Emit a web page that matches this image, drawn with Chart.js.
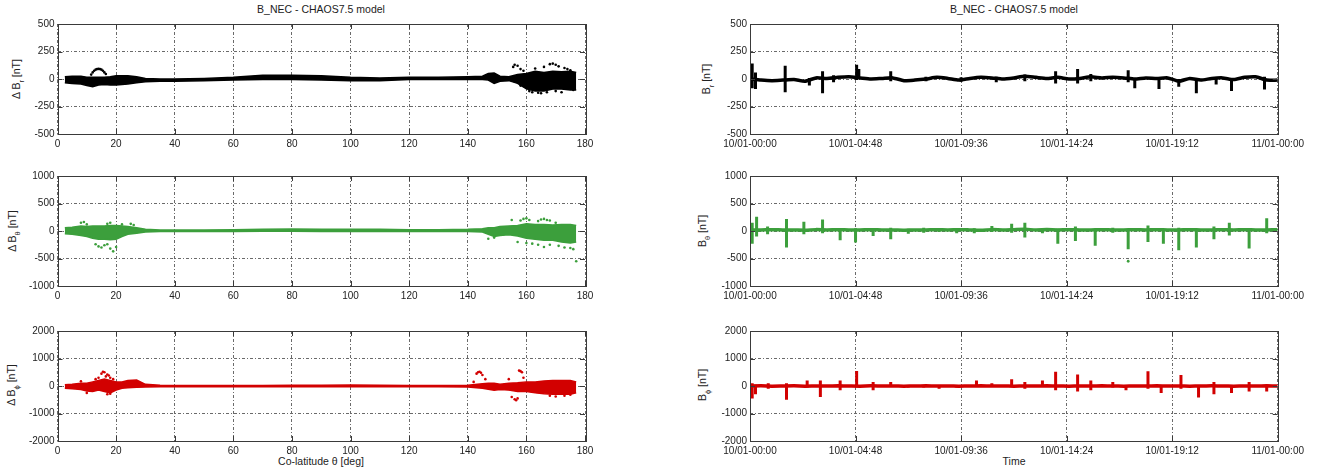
<!DOCTYPE html>
<html lang="en">
<head>
  <meta charset="UTF-8" />
  <title>B_NEC - CHAOS7.5 model</title>
  <script src="https://cdn.jsdelivr.net/npm/chart.js"></script>
  <style>
    body { margin: 0; background: #fff; width: 1325px; height: 472px; position: relative; overflow: hidden;
           font-family: 'Liberation Sans', Arial, sans-serif; color: #222; }
    canvas { position: absolute; }
    .txt { position: absolute; transform: translate(-50%, -50%); white-space: nowrap; font-size: 10px; }
    .ylab { position: absolute; transform: translate(-50%, -50%) rotate(-90deg); white-space: nowrap; font-size: 10.5px; }
    sub { font-size: 7.5px; }
  </style>
</head>
<body>
  <div class="txt" style="left:321px;top:9px;font-size:10.5px">B_NEC - CHAOS7.5 model</div>
  <div class="txt" style="left:1014px;top:9px;font-size:10.5px">B_NEC - CHAOS7.5 model</div>

  <div class="ylab" style="left:18px;top:79px">Δ B<sub>r</sub> [nT]</div>
  <div class="ylab" style="left:14px;top:231px">Δ B<sub>θ</sub> [nT]</div>
  <div class="ylab" style="left:13px;top:385px">Δ B<sub>ϕ</sub> [nT]</div>
  <div class="ylab" style="left:708px;top:79px">B<sub>r</sub> [nT]</div>
  <div class="ylab" style="left:704px;top:231px">B<sub>θ</sub> [nT]</div>
  <div class="ylab" style="left:704px;top:385px">B<sub>ϕ</sub> [nT]</div>

  <div class="txt" style="left:321px;top:461px;font-size:10.5px">Co-latitude θ [deg]</div>
  <div class="txt" style="left:1014px;top:461px;font-size:10.5px">Time</div>

  <canvas id="l1" width="605" height="142" style="left:0;top:14px"></canvas>
  <canvas id="l2" width="605" height="142" style="left:0;top:166px"></canvas>
  <canvas id="l3" width="605" height="142" style="left:0;top:320.5px"></canvas>
  <canvas id="r1" width="635" height="142" style="left:690px;top:14px"></canvas>
  <canvas id="r2" width="635" height="142" style="left:690px;top:166px"></canvas>
  <canvas id="r3" width="635" height="142" style="left:690px;top:320.5px"></canvas>

  <script>
    // ---- left column: residuals vs co-latitude (envelopes of the point cloud + outliers)
    const colat = [2.5,5,8,10,12,14,16,18,20,22,24,27,30,35,40,50,60,70,80,90,100,110,120,130,140,145,147,149,151,154,157,160,163,166,169,172,175,177];

    const dBrUpper = [20,25,25,15,15,15,15,20,30,30,30,20,5,0,0,5,15,35,35,30,15,10,15,15,20,25,50,55,25,20,40,50,70,60,70,65,70,60];
    const dBrLower = [-35,-40,-45,-60,-70,-55,-50,-55,-55,-50,-45,-35,-25,-20,-20,-15,-10,-5,-5,-10,-15,-15,-5,-5,-5,-5,-10,-40,-20,-15,-40,-90,-110,-110,-90,-90,-100,-100];
    const dBrOutX = [11.5,12,12.5,13,13.5,14,14.5,15,15.5,16,16.5,155.5,156,157,158,159,163,166,168,169,170,171,173,174,175,158,160,161,162,164,165,167,170,172,176];
    const dBrOutY = [40,60,75,85,90,92,90,85,75,60,45,110,130,120,90,75,95,110,135,140,130,115,100,90,80,-60,-80,-110,-120,-125,-130,-120,-110,-120,-100];

    const dBtUpper = [60,70,90,80,90,90,90,100,100,90,80,60,30,20,20,20,25,30,35,30,30,30,25,25,30,40,60,60,80,90,100,130,120,120,110,120,120,100];
    const dBtLower = [-50,-60,-80,-100,-130,-150,-150,-160,-150,-100,-60,-40,-20,-10,-10,-10,-10,-5,-5,-10,-10,-10,-10,-10,-10,-20,-60,-100,-80,-70,-90,-130,-150,-170,-170,-200,-220,-200];
    const dBtOutX = [8,9,10,13,14,15,16,17,18,19,20,17,18,22,25,26,147,149,155,158,159,160,161,164,165,166,167,168,170,162,164,166,168,171,173,175,176,177,157,160];
    const dBtOutY = [150,165,120,-240,-280,-300,-260,-240,-320,-370,-290,130,150,120,130,110,-140,-120,200,190,220,230,200,180,210,220,200,190,150,-230,-250,-290,-250,-270,-300,-310,-330,-550,-200,-220];

    const dBpUpper = [50,60,100,100,150,200,250,200,150,150,200,220,60,30,20,20,20,20,30,30,40,30,20,20,30,80,100,100,60,100,120,150,150,180,200,200,200,150];
    const dBpLower = [-80,-100,-130,-180,-200,-150,-200,-250,-150,-80,-60,-50,-40,-30,-30,-30,-30,-30,-30,-30,-30,-30,-30,-30,-40,-80,-120,-150,-130,-150,-200,-200,-250,-280,-300,-300,-300,-250];
    const dBpOutX = [8,13,14,15,15.5,16,16.5,17,17.5,18,19,17,18,10,142,143,143.5,144,144.5,145,146,155,156,156.5,157,157.5,158,158.5,159,154,170,173,175,168];
    const dBpOutY = [170,250,300,450,520,500,350,420,380,300,250,-300,-280,-250,150,450,500,520,480,400,250,-400,-480,-520,-450,560,540,500,300,250,-380,-350,-320,-350];

    const colatTicks = [0,20,40,60,80,100,120,140,160,180];

    // ---- right column: field along the orbit, hours since 10/01-00:00
    const hours = [0,0.5,1,1.5,2,2.5,3,3.5,4,4.5,5,5.5,6,6.5,7,7.5,8,8.5,9,9.5,10,10.5,11,11.5,12,12.5,13,13.5,14,14.5,15,15.5,16,16.5,17,17.5,18,18.5,19,19.5,20,20.5,21,21.5,22,22.5,23,23.5,24];
    const brBase = [0,-10,-15,-10,-5,-20,10,5,15,20,10,0,5,10,-15,-10,0,15,5,-10,5,15,10,0,10,25,15,5,15,0,5,20,10,15,10,0,10,5,10,-20,5,-10,5,10,-5,15,20,-10,-10];
    const btBase = [20,20,25,20,20,15,25,20,25,20,20,25,20,20,15,20,20,25,20,25,20,15,25,20,25,30,20,25,20,25,20,20,25,20,20,25,20,25,20,20,25,20,20,25,20,25,20,20,25];
    const bpBase = [0,5,-5,0,5,-5,0,0,5,0,-5,5,0,0,-5,0,5,0,0,-5,0,5,0,0,-5,0,0,5,0,-5,0,0,5,0,-5,0,0,5,0,0,-5,0,5,0,-5,0,0,5,0];

    const brSpikeT  = [0.1,0.25,1.6,2.7,3.3,3.8,4.85,4.95,6.4,8.0,9.6,11.2,12.5,13.9,14.9,15.5,17.2,17.5,18.6,19.5,20.3,21.2,21.9,23.4];
    const brSpikeLo = [-85,-90,-120,-60,-130,-30,-10,0,-20,-20,-25,-30,-20,-40,-40,-20,-30,-85,-90,-70,-130,-50,-110,-95];
    const brSpikeHi = [140,60,120,10,70,35,130,90,70,20,15,20,40,70,90,45,80,10,10,0,10,10,10,20];

    const btSpikeT  = [0.1,0.3,0.8,1.66,2.45,3.3,4.1,4.8,5.6,6.4,7.2,7.9,8.6,9.4,10.2,11.0,11.9,12.5,13.3,14.0,14.8,15.7,16.5,17.2,18.1,18.8,19.5,20.3,21.1,21.8,22.7,23.5];
    const btSpikeLo = [-230,-100,-60,-300,-60,-40,-170,-210,-90,-150,-50,-30,-20,-40,-40,-20,-30,-120,-40,-230,-180,-270,-30,-330,-200,-230,-350,-300,-150,-80,-320,-40];
    const btSpikeHi = [150,260,80,220,170,210,40,50,40,60,40,60,40,30,50,90,130,150,40,40,80,40,60,30,100,30,60,40,80,150,40,230];
    const btOutT = [17.2];
    const btOutY = [-550];

    const bpSpikeT  = [0.1,0.25,0.83,1.66,2.6,3.2,4.1,4.85,5.6,6.4,7.2,7.9,8.6,9.4,10.3,11.0,11.9,12.5,13.3,13.9,14.9,15.5,16.5,17.1,18.1,18.7,19.6,20.4,21.1,21.9,22.7,23.5];
    const bpSpikeLo = [-450,-300,-100,-500,-50,-400,-150,-20,-150,-30,-50,-50,-100,-50,-30,-30,-20,-100,-30,-150,-200,-150,-50,-150,-100,-250,-100,-420,-300,-250,-200,-200];
    const bpSpikeHi = [100,50,100,100,200,200,200,550,150,150,30,20,20,20,200,100,250,150,200,520,420,200,150,30,540,30,400,30,150,30,150,50];

    const timeTicks = [0,4.8,9.6,14.4,19.2,24];
    const timeLabels = ['10/01-00:00','10/01-04:48','10/01-09:36','10/01-14:24','10/01-19:12','11/01-00:00'];

    const BLACK = '#000000', GREEN = '#3c9f3c', RED = '#d20000';
    const FONT = { family: "'Liberation Sans', Arial, sans-serif", size: 10 };

    // axes box + inward tick marks (MATLAB style)
    const framePlugin = {
      id: 'frame',
      afterDatasetsDraw(chart) {
        const { ctx, chartArea: a, scales } = chart;
        ctx.save();
        ctx.strokeStyle = '#3a3a3a';
        ctx.lineWidth = 1;
        ctx.beginPath();
        scales.x.ticks.forEach(t => {
          const px = Math.round(scales.x.getPixelForValue(t.value)) + 0.5;
          ctx.moveTo(px, a.bottom); ctx.lineTo(px, a.bottom - 5);
          ctx.moveTo(px, a.top); ctx.lineTo(px, a.top + 5);
        });
        scales.y.ticks.forEach(t => {
          const py = Math.round(scales.y.getPixelForValue(t.value)) + 0.5;
          ctx.moveTo(a.left, py); ctx.lineTo(a.left + 5, py);
          ctx.moveTo(a.right, py); ctx.lineTo(a.right - 5, py);
        });
        ctx.stroke();
        ctx.strokeRect(Math.round(a.left) + 0.5, Math.round(a.top) + 0.5,
                       Math.round(a.right - a.left), Math.round(a.bottom - a.top));
        ctx.restore();
      }
    };

    function makeChart(id, datasets, xr, xTicks, xLabels, yTicks, yAxisW, padRight) {
      new Chart(document.getElementById(id), {
        type: 'line',
        data: { datasets },
        plugins: [framePlugin],
        options: {
          responsive: false,
          animation: false,
          devicePixelRatio: 1,
          layout: { padding: { left: 0, top: 10, right: padRight, bottom: 0 } },
          plugins: { legend: { display: false }, tooltip: { enabled: false } },
          scales: {
            x: {
              type: 'linear', min: xr[0], max: xr[1],
              afterBuildTicks: s => { s.ticks = xTicks.map(v => ({ value: v })); },
              afterFit: s => { s.height = 22; },
              ticks: { callback: (v, i) => xLabels[i], maxRotation: 0, autoSkip: false, padding: 4, font: FONT, color: '#222' },
              grid: { color: '#6a6a6a', lineWidth: 1, drawTicks: false },
              border: { display: false, dash: [3, 2, 1, 2] }
            },
            y: {
              type: 'linear', min: yTicks[0], max: yTicks[yTicks.length - 1],
              afterBuildTicks: s => { s.ticks = yTicks.map(v => ({ value: v })); },
              afterFit: s => { s.width = yAxisW; },
              ticks: { callback: v => String(v), padding: 3, font: FONT, color: '#222' },
              grid: { color: '#6a6a6a', lineWidth: 1, drawTicks: false },
              border: { display: false, dash: [3, 2, 1, 2] }
            }
          }
        }
      });
    }

    function bandSets(color, lower, upper, outX, outY) {
      return [
        { data: colat.map((x, i) => ({ x, y: lower[i] })), borderColor: color, borderWidth: 1.5, pointRadius: 0, fill: false },
        { data: colat.map((x, i) => ({ x, y: upper[i] })), borderColor: color, backgroundColor: color, borderWidth: 1.5, pointRadius: 0, fill: '-1' },
        { data: outX.map((x, i) => ({ x, y: outY[i] })), showLine: false, pointRadius: 1.3, pointBackgroundColor: color, pointBorderWidth: 0 }
      ];
    }

    function seriesSets(color, base, spT, spLo, spHi, outT, outY) {
      const spikes = [];
      spT.forEach((t, i) => { spikes.push({ x: t, y: spLo[i] }, { x: t, y: spHi[i] }, { x: t, y: null }); });
      const sets = [
        { data: hours.map((x, i) => ({ x, y: base[i] })), borderColor: color, borderWidth: 3.5, pointRadius: 0, tension: 0.2 },
        { data: spikes, borderColor: color, borderWidth: 3, pointRadius: 0, spanGaps: false }
      ];
      if (outT) sets.push({ data: outT.map((x, i) => ({ x, y: outY[i] })), showLine: false, pointRadius: 1.4, pointBackgroundColor: color, pointBorderWidth: 0 });
      return sets;
    }

    const colatLabels = colatTicks.map(String);
    makeChart('l1', bandSets(BLACK, dBrLower, dBrUpper, dBrOutX, dBrOutY), [0, 180], colatTicks, colatLabels, [-500,-250,0,250,500], 57.5, 20);
    makeChart('l2', bandSets(GREEN, dBtLower, dBtUpper, dBtOutX, dBtOutY), [0, 180], colatTicks, colatLabels, [-1000,-500,0,500,1000], 57.5, 20);
    makeChart('l3', bandSets(RED, dBpLower, dBpUpper, dBpOutX, dBpOutY), [0, 180], colatTicks, colatLabels, [-2000,-1000,0,1000,2000], 57.5, 20);

    makeChart('r1', seriesSets(BLACK, brBase, brSpikeT, brSpikeLo, brSpikeHi), [0, 24], timeTicks, timeLabels, [-500,-250,0,250,500], 60, 47.3);
    makeChart('r2', seriesSets(GREEN, btBase, btSpikeT, btSpikeLo, btSpikeHi, btOutT, btOutY), [0, 24], timeTicks, timeLabels, [-1000,-500,0,500,1000], 60, 47.3);
    makeChart('r3', seriesSets(RED, bpBase, bpSpikeT, bpSpikeLo, bpSpikeHi), [0, 24], timeTicks, timeLabels, [-2000,-1000,0,1000,2000], 60, 47.3);
  </script>
</body>
</html>
